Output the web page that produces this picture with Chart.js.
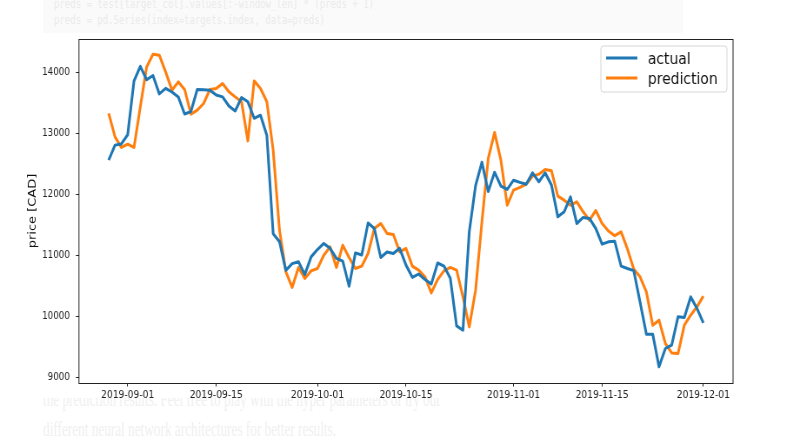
<!DOCTYPE html>
<html>
<head>
<meta charset="utf-8">
<script src="https://cdn.jsdelivr.net/npm/chart.js@4.4.1/dist/chart.umd.min.js"></script>
<style>
  html, body { margin:0; padding:0; background:#fff; }
  body { width:800px; height:447px; overflow:hidden; position:relative; }
  .code-bg { position:absolute; left:43px; top:0; width:640px; height:60px; background:#fafafa; }
  .fit { position:absolute; white-space:pre; transform-origin:0 0; line-height:1; }
  .code { font-family:"DejaVu Sans Mono", monospace; font-size:13px; color:#ebebeb; }
  .prose { font-family:"Liberation Serif", serif; font-size:21px; color:#f0f0f0; }
  #wrap { position:absolute; left:0; top:0; width:920px; height:447px; transform:scaleX(0.8695652); transform-origin:0 0; }
</style>
</head>
<body>
<div class="code-bg"></div>
<div class="fit code" data-w="320" style="left:54px; top:-3px;">preds = test[target_col].values[:-window_len] * (preds + 1)</div>
<div class="fit code" data-w="271" style="left:54px; top:13px;">preds = pd.Series(index=targets.index, data=preds)</div>
<div class="fit prose" data-w="397" style="left:43px; top:389px;">the prediction results. Feel free to play with the hyper parameters or try out</div>
<div class="fit prose" data-w="293" style="left:43px; top:419px;">different neural network architectures for better results.</div>
<div id="wrap"><canvas id="c" width="920" height="447"></canvas></div>
<script>
// ---- data ----
const dates = [
 '2019-08-29','2019-08-30','2019-08-31',
 '2019-09-01','2019-09-02','2019-09-03','2019-09-04','2019-09-05','2019-09-06','2019-09-07','2019-09-08','2019-09-09','2019-09-10',
 '2019-09-11','2019-09-12','2019-09-13','2019-09-14','2019-09-15','2019-09-16','2019-09-17','2019-09-18','2019-09-19','2019-09-20',
 '2019-09-21','2019-09-22','2019-09-23','2019-09-24','2019-09-25','2019-09-26','2019-09-27','2019-09-28','2019-09-29','2019-09-30',
 '2019-10-01','2019-10-02','2019-10-03','2019-10-04','2019-10-05','2019-10-06','2019-10-07','2019-10-08','2019-10-09','2019-10-10',
 '2019-10-11','2019-10-12','2019-10-13','2019-10-14','2019-10-15','2019-10-16','2019-10-17','2019-10-18','2019-10-19','2019-10-20',
 '2019-10-21','2019-10-22','2019-10-23','2019-10-24','2019-10-25','2019-10-26','2019-10-27','2019-10-28','2019-10-29','2019-10-30','2019-10-31',
 '2019-11-01','2019-11-02','2019-11-03','2019-11-04','2019-11-05','2019-11-06','2019-11-07','2019-11-08','2019-11-09','2019-11-10',
 '2019-11-11','2019-11-12','2019-11-13','2019-11-14','2019-11-15','2019-11-16','2019-11-17','2019-11-18','2019-11-19','2019-11-20',
 '2019-11-21','2019-11-22','2019-11-23','2019-11-24','2019-11-25','2019-11-26','2019-11-27','2019-11-28','2019-11-29','2019-11-30',
 '2019-12-01'
];
const actual = [
 12564,12810,12830,12980,13860,14100,13880,13950,13650,13740,
 13680,13600,13320,13360,13720,13715,13710,13630,13600,13450,
 13370,13590,13520,13250,13300,12970,11360,11230,10760,10870,
 10900,10690,10980,11100,11200,11120,10955,10910,10500,11045,
 11010,11535,11445,10970,11060,11035,11120,10845,10645,10700,
 10610,10535,10880,10830,10630,9850,9780,11390,12150,12530,
 12050,12365,12140,12085,12236,12200,12170,12356,12210,12356,
 12155,11636,11718,11963,11527,11626,11609,11445,11188,11226,
 11235,10830,10790,10755,10240,9715,9715,9180,9480,9534,
 9998,9988,10325,10136,9900
];
const prediction = [
 13330,12946,12772,12826,12772,13440,14090,14300,14283,14010,
 13710,13846,13722,13317,13383,13492,13722,13738,13820,13683,
 13600,13519,12880,13862,13738,13519,12728,11420,10740,10479,
 10807,10627,10751,10790,11008,11144,10807,11172,10970,10790,
 10828,11036,11445,11527,11364,11347,11062,11118,10828,10763,
 10654,10391,10610,10751,10807,10763,10325,9834,10435,11554,
 12592,13017,12564,11827,12073,12117,12170,12302,12335,12411,
 12389,11974,11909,11827,11881,11718,11581,11740,11527,11405,
 11328,11390,11110,10780,10654,10408,9862,9944,9562,9408,
 9398,9862,10026,10162,10337
];
const xTickLabels = ['2019-09-01','2019-09-15','2019-10-01','2019-10-15','2019-11-01','2019-11-15','2019-12-01'];
const yTickValues = [9000,10000,11000,12000,13000,14000];

// ---- helpers ----
const dayNum = d => Date.parse(d + 'T00:00:00Z') / 86400000;
const xs = dates.map(dayNum);
const xFirst = xs[0], xLast = xs[xs.length - 1], xSpan = xLast - xFirst;

function fitTexts() {
  document.querySelectorAll('.fit').forEach(el => {
    el.style.transform = 'none';
    const w = el.getBoundingClientRect().width;
    const target = parseFloat(el.dataset.w);
    if (w > 0) el.style.transform = 'scaleX(' + (target / w) + ')';
  });
}
fitTexts();
if (document.fonts && document.fonts.ready) document.fonts.ready.then(fitTexts);

const imageBg = {
  id: 'imageBg',
  beforeDraw(chart) {
    const c = chart.ctx;
    c.save();
    c.fillStyle = '#ffffff';
    c.fillRect(0, 33, chart.width, 365);
    c.restore();
  }
};
const frame = {
  id: 'frame',
  afterDatasetsDraw(chart) {
    const a = chart.chartArea, c = chart.ctx;
    c.save();
    c.strokeStyle = '#222';
    c.lineWidth = 1;
    c.strokeRect(a.left, a.top + 0.5, a.right - a.left, a.bottom - a.top);
    c.restore();
  }
};
const legendBox = {
  id: 'legendBox',
  afterDraw(chart) {
    const c = chart.ctx;
    const x = 691, y = 46, w = 145, h = 46, r = 3;
    c.save();
    c.beginPath();
    c.moveTo(x + r, y); c.lineTo(x + w - r, y); c.quadraticCurveTo(x + w, y, x + w, y + r);
    c.lineTo(x + w, y + h - r); c.quadraticCurveTo(x + w, y + h, x + w - r, y + h);
    c.lineTo(x + r, y + h); c.quadraticCurveTo(x, y + h, x, y + h - r);
    c.lineTo(x, y + r); c.quadraticCurveTo(x, y, x + r, y);
    c.closePath();
    c.fillStyle = 'rgba(255,255,255,0.8)';
    c.fill();
    c.strokeStyle = '#d6d6d6';
    c.lineWidth = 1;
    c.stroke();
    c.font = '16px "DejaVu Sans"';
    c.textBaseline = 'alphabetic';
    chart.data.datasets.forEach((ds, i) => {
      const ly = 58 + i * 20;
      c.strokeStyle = ds.borderColor;
      c.lineWidth = 3;
      c.beginPath(); c.moveTo(697, ly); c.lineTo(733, ly); c.stroke();
      c.fillStyle = '#111';
      c.fillText(ds.label, 745, ly + 6);
    });
    c.restore();
  }
};

new Chart(document.getElementById('c'), {
  type: 'line',
  data: {
    datasets: [
      { label: 'actual', data: xs.map((x, i) => ({ x: x, y: actual[i] })),
        borderColor: '#1f77b4', borderWidth: 3, pointRadius: 0, tension: 0, fill: false, borderJoinStyle: 'round' },
      { label: 'prediction', data: xs.map((x, i) => ({ x: x, y: prediction[i] })),
        borderColor: '#ff7f0e', borderWidth: 3, pointRadius: 0, tension: 0, fill: false, borderJoinStyle: 'round' }
    ]
  },
  options: {
    responsive: false,
    animation: false,
    devicePixelRatio: 1,
    layout: { padding: { left: 26, right: 77, top: 39, bottom: 0 } },
    plugins: { legend: { display: false }, tooltip: { enabled: false } },
    scales: {
      x: {
        type: 'linear',
        min: xFirst - 0.05 * xSpan,
        max: xLast + 0.05 * xSpan,
        afterBuildTicks: s => { s.ticks = xTickLabels.map(t => ({ value: dayNum(t) })); },
        ticks: { callback: (v, i) => xTickLabels[i], autoSkip: false, maxRotation: 0,
                 font: { family: 'DejaVu Sans', size: 10.5 }, color: '#222', padding: 2 },
        grid: { drawOnChartArea: false, drawTicks: true, tickLength: 3.5, tickColor: '#222', tickWidth: 1 },
        border: { display: false },
        afterFit: s => { s.height = 64; }
      },
      y: {
        type: 'linear',
        min: 8915,
        max: 14548,
        afterBuildTicks: s => { s.ticks = yTickValues.map(v => ({ value: v })); },
        ticks: { callback: v => String(v), font: { family: 'DejaVu Sans', size: 10 }, color: '#222', padding: 7 },
        grid: { drawOnChartArea: false, drawTicks: true, tickLength: 3.5, tickColor: '#222', tickWidth: 1 },
        border: { display: false },
        title: { display: true, text: 'price [CAD]', font: { family: 'DejaVu Sans', size: 13 }, color: '#111',
                 padding: { top: 4, bottom: 0 } },
        afterFit: s => { s.width = 64.8; }
      }
    }
  },
  plugins: [imageBg, frame, legendBox]
});
</script>
</body>
</html>
